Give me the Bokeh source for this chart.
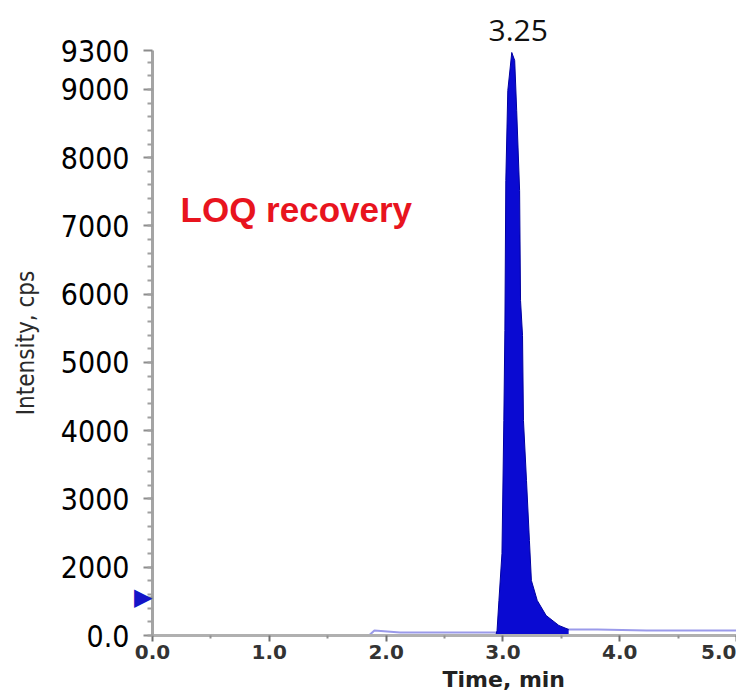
from bokeh.plotting import figure
from bokeh.models import (FixedTicker, PrintfTickFormatter, Label, Range1d,
                          Title, LinearAxis)
from bokeh.embed import file_html
from bokeh.resources import INLINE

# ---------------- data ----------------
# chromatogram peak (time in min, intensity in axis units)
peak_time = [2.941, 2.950, 2.966, 2.992, 3.008, 3.017, 3.025, 3.042, 3.076,
             3.101, 3.118, 3.143, 3.151, 3.168, 3.176, 3.202, 3.227, 3.244,
             3.294, 3.370, 3.479, 3.563]
peak_intensity = [1015, 1073, 1513, 2201, 4150, 5468, 7666, 8984, 9541,
                  9424, 8691, 7519, 5908, 5395, 4150, 3271, 2392, 1806,
                  1513, 1293, 1147, 1088]
# low baseline trace
base_time = [1.86, 1.90, 2.12, 2.55, 2.94, 3.56, 3.81, 4.23, 4.65, 5.0]
base_intensity = [1010, 1073, 1044, 1044, 1044, 1088, 1088, 1073, 1073, 1073]
baseline_level = 1000
# threshold marker on the intensity axis
marker_intensity = [1557]
marker_symbol = "\u25b6"

x_tick_values = [0, 1, 2, 3, 4, 5]
x_minor_values = [0.5, 1.5, 2.5, 3.5, 4.5]
y_tick_values = [1000, 2000, 3000, 4000, 5000, 6000, 7000, 8000, 9000, 9570]
y_tick_labels = ["0.0", "2000", "3000", "4000", "5000", "6000", "7000",
                 "8000", "9000", "9300"]
y_minor_values = [1000 + 200 * i for i in range(43)]

peak_rt_label = "3.25"
sample_label = "LOQ recovery"
x_title = "Time, min"
y_title = "Intensity, cps"

NARROW = "'Liberation Sans Narrow', 'DejaVu Sans Condensed', 'Arial Narrow', sans-serif"

p = figure(width=736, height=695, output_backend="svg", toolbar_location=None,
           x_range=Range1d(0, 5.0), y_range=Range1d(1000, 9570),
           min_border_left=152, min_border_right=0, min_border_top=50,
           min_border_bottom=60, background_fill_color="white",
           border_fill_color="white")
p.xgrid.visible = False
p.ygrid.visible = False
p.outline_line_color = None

# retention-time label above the peak
p.title.text = peak_rt_label
p.title.align = "left"
p.title.offset = 336
p.title.text_font = "Open Sans"
p.title.text_font_style = "normal"
p.title.text_font_size = "30px"
p.title.text_color = "#111111"
p.title.standoff = 19

# y axis A (next to the frame): axis line, ticks and the marker
ya = p.yaxis[0]
ya.ticker = FixedTicker(ticks=y_tick_values + marker_intensity,
                        minor_ticks=y_minor_values)
ya.major_label_overrides = {**{v: "" for v in y_tick_values},
                            **{v: marker_symbol for v in marker_intensity}}
ya.axis_line_color = "#a4a4a4"
ya.axis_line_width = 3
ya.major_tick_line_color = "#8c8c8c"
ya.major_tick_line_width = 2
ya.major_tick_out = 9
ya.major_tick_in = 0
ya.minor_tick_line_color = "#a0a0a0"
ya.minor_tick_line_width = 2
ya.minor_tick_out = 5
ya.minor_tick_in = 0
ya.major_label_text_font = "DejaVu Sans"
ya.major_label_text_font_size = "24px"
ya.major_label_text_color = "#1414c8"
ya.major_label_standoff = -9

# y axis B (outer): the numeric labels and the title
yb = LinearAxis(ticker=FixedTicker(ticks=y_tick_values, minor_ticks=[]))
yb.major_label_overrides = dict(zip(y_tick_values, y_tick_labels))
yb.axis_line_color = None
yb.major_tick_line_color = None
yb.minor_tick_line_color = None
yb.major_tick_out = 0
yb.major_tick_in = 0
yb.major_label_text_font = NARROW
yb.major_label_text_font_size = "30px"
yb.major_label_text_color = "#000000"
yb.major_label_standoff = 2
yb.axis_label = y_title
yb.axis_label_text_font = NARROW
yb.axis_label_text_font_size = "24px"
yb.axis_label_text_font_style = "normal"
yb.axis_label_text_color = "#2a2a2a"
yb.axis_label_standoff = 18
p.add_layout(yb, "left")

# x axis
xa = p.xaxis[0]
xa.ticker = FixedTicker(ticks=x_tick_values, minor_ticks=x_minor_values)
xa.formatter = PrintfTickFormatter(format="%.1f")
xa.axis_line_color = "#b0b0b0"
xa.axis_line_width = 3
xa.major_tick_line_color = "#707070"
xa.major_tick_line_width = 2
xa.major_tick_out = 6
xa.major_tick_in = 0
xa.minor_tick_line_color = "#909090"
xa.minor_tick_line_width = 2
xa.minor_tick_out = 3
xa.minor_tick_in = 0
xa.major_label_text_font = "DejaVu Sans"
xa.major_label_text_font_style = "bold"
xa.major_label_text_font_size = "20px"
xa.major_label_text_color = "#333333"
xa.major_label_standoff = 3

# x title below the axis
p.add_layout(Title(text=x_title, align="left", offset=290,
                   text_font="DejaVu Sans", text_font_style="bold",
                   text_font_size="22px", text_color="#222222", standoff=6),
             "below")

# trace
p.line(base_time, base_intensity, line_color="#9a9aea", line_width=2)
p.varea(x=peak_time, y1=baseline_level, y2=peak_intensity, fill_color="#0a0ad2")
p.line(peak_time, peak_intensity, line_color="#0000a0", line_width=1)

# sample label
p.add_layout(Label(x=0.24, y=7241, text=sample_label, text_align="left",
                   text_baseline="middle", text_font="Liberation Sans",
                   text_font_style="bold", text_font_size="35px",
                   text_color="#e8141e"))

open("out.html", "w").write(file_html(p, INLINE))
